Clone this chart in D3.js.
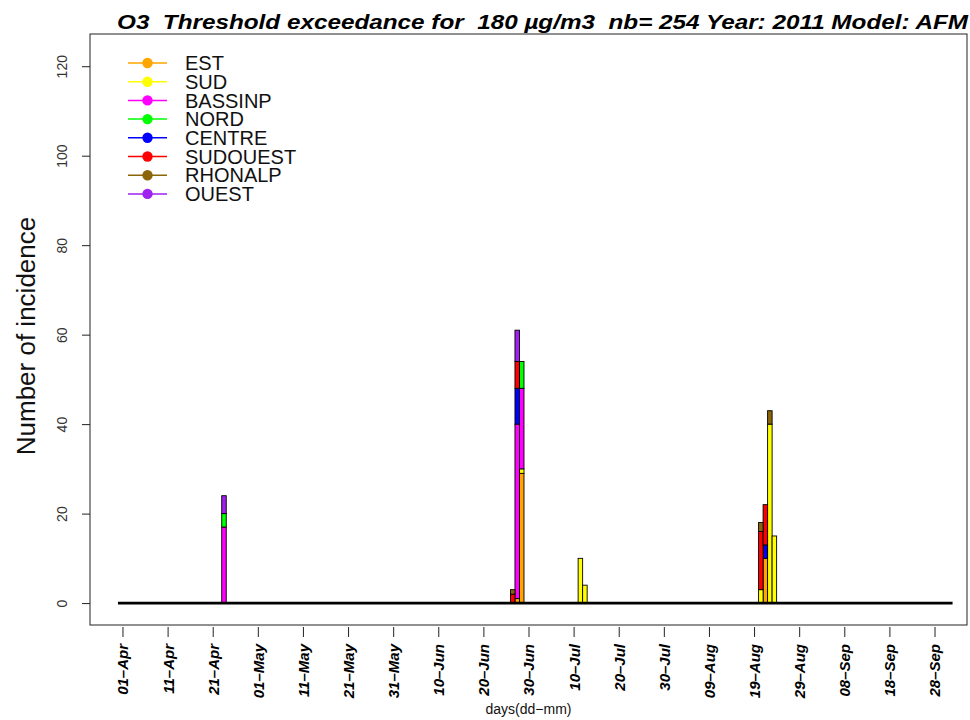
<!DOCTYPE html>
<html>
<head>
<meta charset="utf-8">
<script src="https://cdn.jsdelivr.net/npm/d3@7"></script>
<style>
  body { margin: 0; background: #fff; }
  svg { display: block; font-family: "Liberation Sans", Arial, Helvetica, sans-serif; }
</style>
</head>
<body>
<svg id="chart" width="970" height="720"></svg>
<script>
// Regions, stacked bottom to top in this order
const regions = ["EST", "SUD", "BASSINP", "NORD", "CENTRE", "SUDOUEST", "RHONALP", "OUEST"];
const regionColors = ["#FFA500", "#FFFF00", "#FF00FF", "#00FF00", "#0000FF", "#FF0000", "#8B6508", "#A020F0"];

// Days with at least one exceedance
const days = ["2011-04-23", "2011-06-26", "2011-06-27", "2011-06-28", "2011-07-11",
              "2011-07-12", "2011-08-20", "2011-08-21", "2011-08-22", "2011-08-23"];

// Exceedance counts per region, aligned with `days`
const EST      = [0, 0, 1, 29, 0, 0, 0, 10, 0, 0];
const SUD      = [0, 0, 0, 1, 10, 4, 3, 0, 40, 15];
const BASSINP  = [17, 0, 39, 18, 0, 0, 0, 0, 0, 0];
const NORD     = [3, 0, 0, 6, 0, 0, 0, 0, 0, 0];
const CENTRE   = [0, 0, 8, 0, 0, 0, 0, 3, 0, 0];
const SUDOUEST = [0, 2, 6, 0, 0, 0, 13, 9, 0, 0];
const RHONALP  = [0, 1, 0, 0, 0, 0, 2, 0, 3, 0];
const OUEST    = [4, 0, 7, 0, 0, 0, 0, 0, 0, 0];

// Season covered and axis ticks
const seasonStart = "2011-04-01";
const seasonEnd = "2011-09-30";
const xTickDates = ["2011-04-01", "2011-04-11", "2011-04-21", "2011-05-01", "2011-05-11",
                    "2011-05-21", "2011-05-31", "2011-06-10", "2011-06-20", "2011-06-30",
                    "2011-07-10", "2011-07-20", "2011-07-30", "2011-08-09", "2011-08-19",
                    "2011-08-29", "2011-09-08", "2011-09-18", "2011-09-28"];
const yTicks = [0, 20, 40, 60, 80, 100, 120];

const titleText = "O3  Threshold exceedance for  180 \u00b5g/m3  nb= 254 Year: 2011 Model: AFM";

// ---- table built from the arrays above
const counts = [EST, SUD, BASSINP, NORD, CENTRE, SUDOUEST, RHONALP, OUEST];
const parse = d3.utcParse("%Y-%m-%d");
const DAY = 864e5;
const t0 = parse(seasonStart);
const t1 = parse(seasonEnd);

const table = days.map((d, i) => {
  const row = { date: parse(d) };
  regions.forEach((r, k) => { row[r] = counts[k][i]; });
  return row;
});
const stacked = d3.stack().keys(regions)(table);

// ---- layout
const box = { left: 90, right: 967, top: 34, bottom: 625 };
const svg = d3.select("#chart");

const x = d3.scaleUtc()
  .domain([new Date(t0.getTime() - 7.2 * DAY), new Date(t0.getTime() + 187.2 * DAY)])
  .range([box.left, box.right]);
const y = d3.scaleLinear()
  .domain([-4.9, 127.2])
  .range([box.bottom, box.top]);

// stacked daily bars
const layers = svg.append("g").attr("class", "bars")
  .selectAll("g")
  .data(stacked)
  .join("g")
  .attr("fill", (s, k) => regionColors[k]);

layers.selectAll("rect")
  .data(s => s.filter(p => p[1] > p[0]))
  .join("rect")
  .attr("x", p => x(p.data.date))
  .attr("width", p => x(new Date(p.data.date.getTime() + DAY)) - x(p.data.date))
  .attr("y", p => y(p[1]))
  .attr("height", p => y(p[0]) - y(p[1]))
  .attr("stroke", "#000")
  .attr("stroke-width", 0.9);

// zero line across the season
svg.append("line")
  .attr("x1", x(d3.utcDay.offset(t0, -1)))
  .attr("x2", x(d3.utcDay.offset(t1, 2)))
  .attr("y1", y(0)).attr("y2", y(0))
  .attr("stroke", "#000")
  .attr("stroke-width", 2.6);

// plot frame
svg.append("rect")
  .attr("x", box.left).attr("y", box.top)
  .attr("width", box.right - box.left)
  .attr("height", box.bottom - box.top)
  .attr("fill", "none")
  .attr("stroke", "#222")
  .attr("stroke-width", 1);

// x axis: ticks every ten days, labels rotated
const fmt = d3.utcFormat("%d\u2013%b");
const xAxis = svg.append("g")
  .attr("transform", `translate(0,${box.bottom + 2})`)
  .call(d3.axisBottom(x)
    .tickValues(xTickDates.map(parse))
    .tickFormat(fmt)
    .tickSize(10)
    .tickSizeOuter(0));
xAxis.select(".domain").remove();
xAxis.selectAll(".tick line").attr("stroke", "#222");
xAxis.selectAll(".tick text")
  .attr("transform", "rotate(-90)")
  .attr("x", -17)
  .attr("y", 0)
  .attr("dy", "0.36em")
  .attr("text-anchor", "end")
  .attr("fill", "#000")
  .style("font-size", "15px")
  .style("font-weight", "bold")
  .style("font-style", "italic");

// y axis
const yAxis = svg.append("g")
  .attr("transform", `translate(${box.left},0)`)
  .call(d3.axisLeft(y)
    .tickValues(yTicks)
    .tickSize(8)
    .tickSizeOuter(0));
yAxis.select(".domain").remove();
yAxis.selectAll(".tick line").attr("stroke", "#222");
yAxis.selectAll(".tick text")
  .attr("transform", "rotate(-90)")
  .attr("x", 0)
  .attr("y", -28)
  .attr("dy", "0.36em")
  .attr("text-anchor", "middle")
  .attr("fill", "#333")
  .style("font-size", "14px");

// axis titles
svg.append("text")
  .attr("transform", `translate(26,336) rotate(-90)`)
  .attr("text-anchor", "middle")
  .attr("dy", "0.36em")
  .style("font-size", "26px")
  .attr("fill", "#111")
  .text("Number of incidence");

svg.append("text")
  .attr("x", (box.left + box.right) / 2)
  .attr("y", 714)
  .attr("text-anchor", "middle")
  .style("font-size", "14px")
  .attr("fill", "#111")
  .text("days(dd\u2212mm)");

// title
svg.append("text")
  .attr("x", 117)
  .attr("y", 29)
  .attr("textLength", 851)
  .attr("lengthAdjust", "spacingAndGlyphs")
  .style("white-space", "pre")
  .style("font-size", "21px")
  .style("font-weight", "bold")
  .style("font-style", "italic")
  .attr("fill", "#000")
  .text(titleText);

// legend
const legend = svg.append("g").attr("class", "legend");
const rows = legend.selectAll("g")
  .data(regions)
  .join("g")
  .attr("transform", (r, i) => `translate(0,${63 + i * 18.7})`);
rows.append("line")
  .attr("x1", 128).attr("x2", 167)
  .attr("stroke", (r, i) => regionColors[i])
  .attr("stroke-width", 1.5);
rows.append("circle")
  .attr("cx", 147.5).attr("r", 5.2)
  .attr("fill", (r, i) => regionColors[i]);
rows.append("text")
  .attr("x", 185)
  .attr("dy", "0.36em")
  .style("font-size", "20px")
  .attr("fill", "#111")
  .text(r => r);
</script>
</body>
</html>
